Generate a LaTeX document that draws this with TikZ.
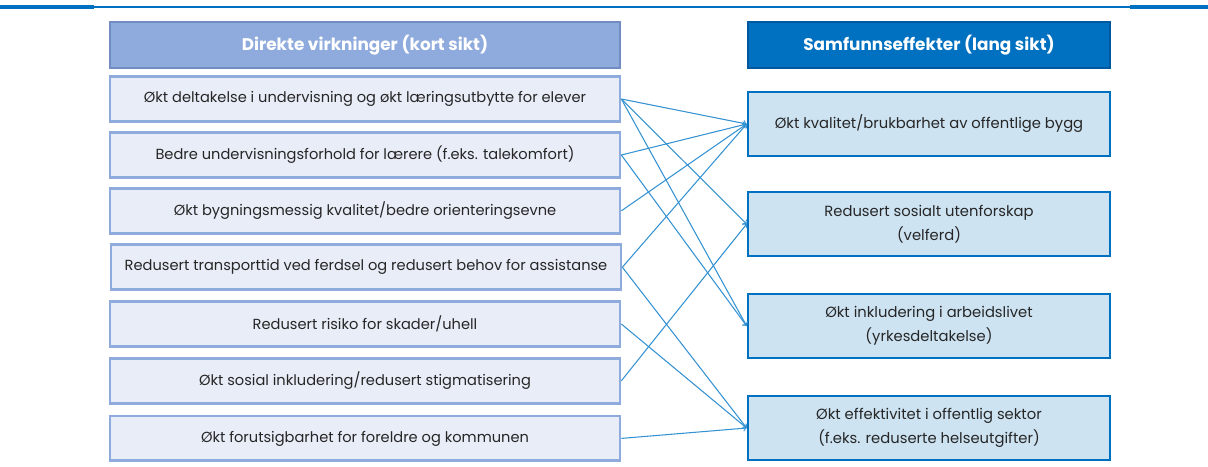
\documentclass[tikz,border=0pt]{standalone}
\usepackage{fontspec}
\setmainfont{Poppins}
\usetikzlibrary{arrows}

\definecolor{hodevenstre}{RGB}{143,170,220}
\definecolor{kantvenstre}{RGB}{112,140,192}
\definecolor{fyllvenstre}{RGB}{233,237,248}
\definecolor{hodehoyre}{RGB}{0,112,192}
\definecolor{kanthoyre}{RGB}{0,88,158}
\definecolor{fyllhoyre}{RGB}{205,227,242}
\definecolor{pilfarge}{RGB}{52,146,210}
\definecolor{tekstfarge}{RGB}{38,38,38}

\begin{document}
\begin{tikzpicture}[line width=1pt,
		hodeV/.style={draw=kantvenstre, line width=1.4pt, fill=hodevenstre, text=white, minimum width=12.75cm, minimum height=1.15cm, font=\fontsize{12}{14}\selectfont\bfseries},
		hodeH/.style={draw=kanthoyre, line width=1.4pt, fill=hodehoyre, text=white, minimum width=9.05cm, minimum height=1.15cm, font=\fontsize{12}{14}\selectfont\bfseries},
		boksV/.style={draw=hodevenstre, line width=1.9pt, fill=fyllvenstre, text=tekstfarge, minimum width=12.75cm, minimum height=1.12cm, font=\fontsize{10.4}{12}\selectfont},
		boksH/.style={draw=hodehoyre, line width=1.9pt, fill=fyllhoyre, text=tekstfarge, minimum width=9.05cm, minimum height=1.6cm, align=center, font=\fontsize{10.5}{17}\selectfont},
		pil/.style={->, draw=pilfarge, line width=0.75pt}]
		\useasboundingbox (0, 0) rectangle (30.2, -11.65);
		
		\draw[hodehoyre, line width=1.4pt] (0, -0.175) -- (30.2, -0.175); 	% Linje øverst
		\draw[hodehoyre, line width=2.8pt] (0, -0.175) -- (2.35, -0.175);
		\draw[hodehoyre, line width=2.8pt] (28.25, -0.175) -- (30.2, -0.175);
		
		% Venstre kolonne
		\node[hodeV] (dv) at (9.125, -1.125) {Direkte virkninger (kort sikt)};
		\node[boksV] (v1) at (9.125, -2.475) {Økt deltakelse i undervisning og økt læringsutbytte for elever};
		\node[boksV] (v2) at (9.125, -3.875) {Bedre undervisningsforhold for lærere (f.eks. talekomfort)};
		\node[boksV] (v3) at (9.125, -5.27) {Økt bygningsmessig kvalitet/bedre orienteringsevne};
		\node[boksV] (v4) at (9.15, -6.68) {Redusert transporttid ved ferdsel og redusert behov for assistanse};
		\node[boksV] (v5) at (9.125, -8.1) {Redusert risiko for skader/uhell};
		\node[boksV] (v6) at (9.125, -9.52) {Økt sosial inkludering/redusert stigmatisering};
		\node[boksV] (v7) at (9.125, -10.96) {Økt forutsigbarhet for foreldre og kommunen};
		
		% Høyre kolonne
		\node[hodeH] (sf) at (23.225, -1.125) {Samfunnseffekter (lang sikt)};
		\node[boksH] (h1) at (23.225, -3.1) {Økt kvalitet/brukbarhet av offentlige bygg};
		\node[boksH] (h2) at (23.225, -5.6) {Redusert sosialt utenforskap\\(velferd)};
		\node[boksH] (h3) at (23.225, -8.15) {Økt inkludering i arbeidslivet\\(yrkesdeltakelse)};
		\node[boksH] (h4) at (23.225, -10.7) {Økt effektivitet i offentlig sektor\\(f.eks. reduserte helseutgifter)};
		
		% Piler
		\draw[pil] (v1.east) -- (h1.west);
		\draw[pil] (v1.east) -- (h2.west);
		\draw[pil] (v1.east) -- (h3.west);
		\draw[pil] (v2.east) -- (h1.west);
		\draw[pil] (v2.east) -- (h3.west);
		\draw[pil] (v3.east) -- (h1.west);
		\draw[pil] (v4.east) -- (h1.west);
		\draw[pil] (v4.east) -- (h4.west);
		\draw[pil] (v5.east) -- (h4.west);
		\draw[pil] (v6.east) -- (h2.west);
		\draw[pil] (v7.east) -- (h4.west);
	\end{tikzpicture}
\end{document}
